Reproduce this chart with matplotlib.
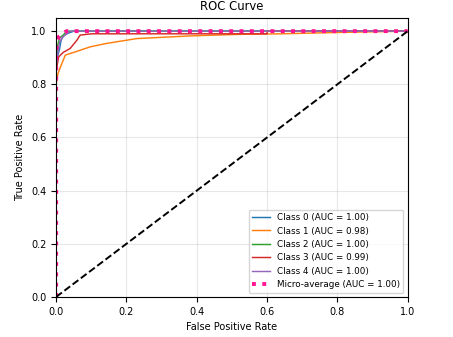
import numpy as np
import matplotlib.pyplot as plt

# Curvas ROC por clase
fpr0 = [0, 0, 0.005, 0.01, 0.014, 0.02, 0.03, 0.05, 1.0]
tpr0 = [0, 0.88, 0.91, 0.935, 0.966, 0.98, 0.99, 1.0, 1.0]

fpr1 = [0, 0, 0.005, 0.011, 0.026, 0.05, 0.097, 0.144, 0.229, 0.38, 0.52, 0.64, 0.8, 1.0]
tpr1 = [0, 0.80, 0.84, 0.861, 0.91, 0.92, 0.941, 0.954, 0.972, 0.982, 0.988, 0.99, 0.995, 1.0]

fpr2 = [0, 0, 0.005, 0.01, 0.02, 0.03, 1.0]
tpr2 = [0, 0.90, 0.95, 0.975, 0.985, 1.0, 1.0]

fpr3 = [0, 0, 0.007, 0.02, 0.04, 0.059, 0.068, 0.1, 0.13, 0.6, 0.6, 1.0]
tpr3 = [0, 0.85, 0.903, 0.92, 0.935, 0.966, 0.985, 0.99, 0.99, 0.99, 1.0, 1.0]

fpr4 = [0, 0, 0.005, 0.01, 0.02, 0.04, 1.0]
tpr4 = [0, 0.87, 0.92, 0.96, 0.98, 1.0, 1.0]

fpr_micro = [0, 0, 0.003, 0.008, 0.015, 0.03, 1.0]
tpr_micro = [0, 0.93, 0.96, 0.98, 0.99, 1.0, 1.0]

aucs = [1.00, 0.98, 1.00, 0.99, 1.00]
auc_micro = 1.00

plt.rcParams['font.size'] = 7

fig = plt.figure(figsize=(4.53, 3.37), dpi=100)
ax = fig.add_axes([0.124, 0.119, 0.776, 0.828])

curvas = [(fpr0, tpr0), (fpr1, tpr1), (fpr2, tpr2), (fpr3, tpr3), (fpr4, tpr4)]
for i, (f, t) in enumerate(curvas):
    ax.plot(f, t, color=f'C{i}', lw=1.05, label=f'Class {i} (AUC = {aucs[i]:.2f})')

ax.plot(fpr_micro, tpr_micro, color='deeppink', linestyle=':', lw=2.8,
        label=f'Micro-average (AUC = {auc_micro:.2f})')
ax.plot([0, 1], [0, 1], 'k--', lw=1.4)

ax.set_xlim(0, 1)
ax.set_ylim(0, 1.05)
ax.set_xlabel('False Positive Rate')
ax.set_ylabel('True Positive Rate')
ax.set_title('ROC Curve')
ax.grid(True, alpha=0.3)
ax.legend(loc='lower right', fontsize=6.3)

fig.savefig('out.png', dpi=100)
